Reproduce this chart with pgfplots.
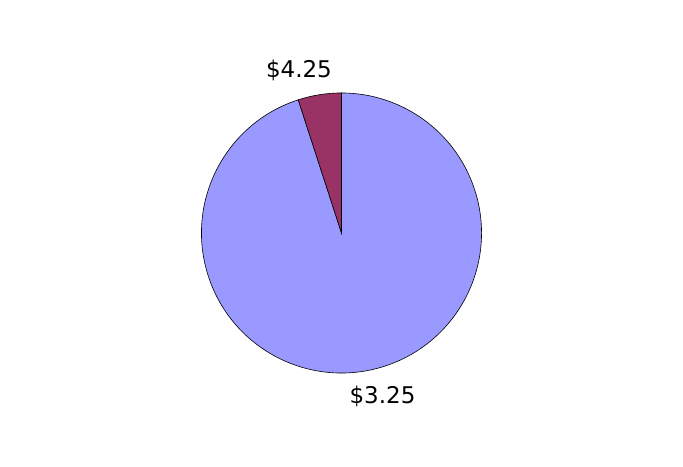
\documentclass[border=0pt]{standalone}
\usepackage{pgfplots}
\pgfplotsset{compat=1.18}
\usepackage{fontspec}
\setmainfont{DejaVu Sans}

\definecolor{slicea}{HTML}{9999FF}
\definecolor{sliceb}{HTML}{993366}

% slice values ($4.25, $3.25)
\def\valB{5}
\def\valA{95}
\pgfmathsetmacro{\total}{\valA+\valB}
\pgfmathsetmacro{\cut}{90+360*\valB/\total}

\begin{document}
\begin{tikzpicture}
\begin{axis}[
    hide axis,
    x=140pt, y=140pt,
    xmin=-2.439, xmax=2.439,
    ymin=-1.671, ymax=1.664,
    clip=false,
  ]
  % $3.25 slice
  \fill[slicea, draw=black, line width=0.6pt]
    (axis cs:0,0) -- (axis cs:{cos(\cut)},{sin(\cut)})
    arc[start angle=\cut, end angle=450, radius=140pt] -- cycle;
  % $4.25 slice
  \fill[sliceb, draw=black, line width=0.6pt]
    (axis cs:0,0) -- (axis cs:0,1)
    arc[start angle=90, end angle=\cut, radius=140pt] -- cycle;

  \node[font=\fontsize{23}{27}\selectfont] at (axis cs:-0.304,1.164) {\$4.25};
  \node[font=\fontsize{23}{27}\selectfont] at (axis cs:0.293,-1.164) {\$3.25};
\end{axis}
\path (current axis.south west) rectangle (current axis.north east);
\end{tikzpicture}
\end{document}
